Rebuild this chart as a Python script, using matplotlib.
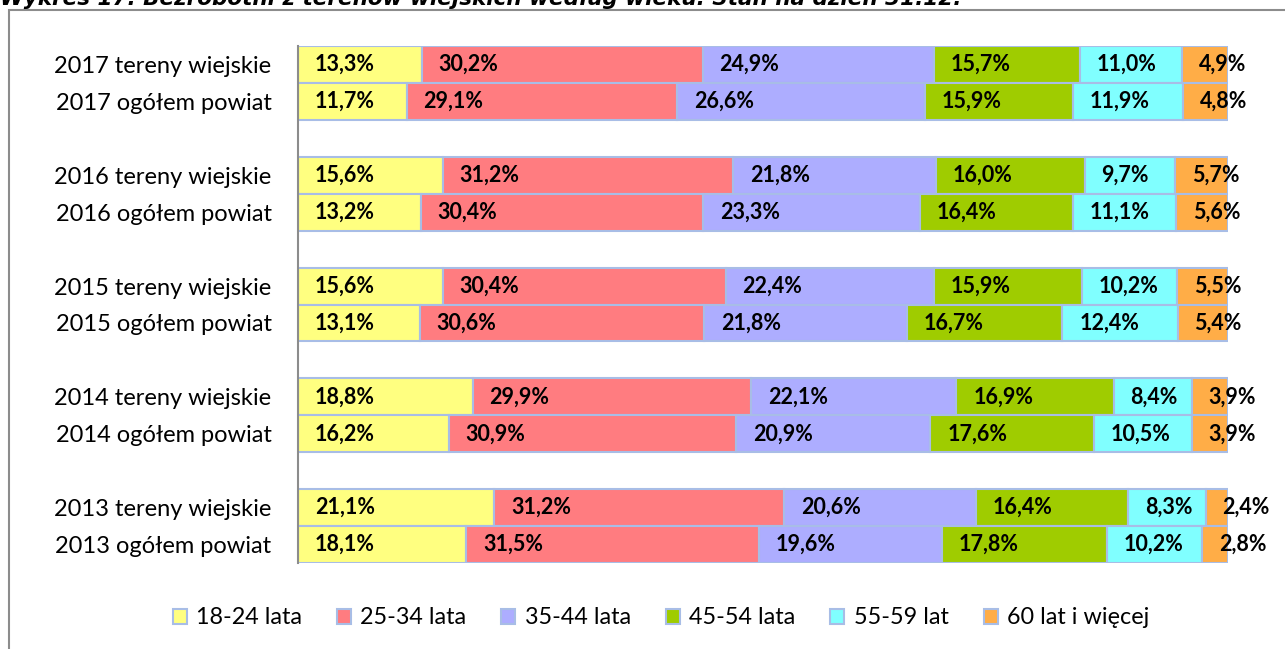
import matplotlib
matplotlib.use('Agg')
import matplotlib.pyplot as plt
from matplotlib.patches import Rectangle, Patch
import numpy as np

plt.rcParams['font.family'] = ['Lato', 'DejaVu Sans']

# categories, top to bottom
categories = [
    '2017 tereny wiejskie', '2017 ogółem powiat',
    '2016 tereny wiejskie', '2016 ogółem powiat',
    '2015 tereny wiejskie', '2015 ogółem powiat',
    '2014 tereny wiejskie', '2014 ogółem powiat',
    '2013 tereny wiejskie', '2013 ogółem powiat',
]
age_groups = ['18-24 lata', '25-34 lata', '35-44 lata', '45-54 lata', '55-59 lat', '60 lat i więcej']

share_18_24 = [13.3, 11.7, 15.6, 13.2, 15.6, 13.1, 18.8, 16.2, 21.1, 18.1]
share_25_34 = [30.2, 29.1, 31.2, 30.4, 30.4, 30.6, 29.9, 30.9, 31.2, 31.5]
share_35_44 = [24.9, 26.6, 21.8, 23.3, 22.4, 21.8, 22.1, 20.9, 20.6, 19.6]
share_45_54 = [15.7, 15.9, 16.0, 16.4, 15.9, 16.7, 16.9, 17.6, 16.4, 17.8]
share_55_59 = [11.0, 11.9, 9.7, 11.1, 10.2, 12.4, 8.4, 10.5, 8.3, 10.2]
share_60_plus = [4.9, 4.8, 5.7, 5.6, 5.5, 5.4, 3.9, 3.9, 2.4, 2.8]

colors = ['#FFFF80', '#FF7C80', '#ADADFF', '#9FCC00', '#80FFFF', '#FFAD47']
edge = '#A8BDE6'

title = 'Wykres 17. Bezrobotni z terenów wiejskich według wieku. Stan na dzień 31.12.'

W, H = 1285, 649
fig = plt.figure(figsize=(W / 100, H / 100), dpi=100)
ax = fig.add_axes([298 / W, 1 - 563 / H, (1228 - 298) / W, (563 - 46) / H])

series = np.array([share_18_24, share_25_34, share_35_44, share_45_54, share_55_59, share_60_plus])
totals = series.sum(axis=0)
pct = series / totals * 100

# two bars per year, one empty slot between years
ypos = np.array([3 * (i // 2) + i % 2 for i in range(len(categories))])

left = np.zeros(len(categories))
for k in range(len(age_groups)):
    ax.barh(ypos, pct[k], left=left, height=1.0, color=colors[k],
            edgecolor=edge, linewidth=1.5, label=age_groups[k])
    for y, l, v in zip(ypos, left, series[k]):
        ax.text(l + 1.8, y, ('%.1f%%' % v).replace('.', ','), ha='left', va='center',
                fontsize=15.5, fontweight='bold', color='black')
    left += pct[k]

ax.set_xlim(0, 100)
ax.set_ylim(13.5, -0.5)
ax.set_yticks(ypos)
ax.set_yticklabels(categories, fontsize=17)
ax.tick_params(axis='y', length=0, pad=19)
ax.set_xticks([])
for s in ['top', 'right', 'bottom']:
    ax.spines[s].set_visible(False)
ax.spines['left'].set_color('#8C8C8C')
ax.spines['left'].set_linewidth(1.5)

handles = [Patch(facecolor=c, edgecolor=edge, linewidth=1.5) for c in colors]
fig.legend(handles, age_groups, loc='center', bbox_to_anchor=(661 / W, 1 - 618 / H),
           ncol=6, frameon=False, fontsize=16.8, handlelength=0.6, handleheight=0.65,
           handletextpad=0.4, columnspacing=1.5)

# outer chart frame, cut off at the right and bottom
fig.add_artist(Rectangle((9 / W, -0.1), 1.2, 1.1 - 10 / H, transform=fig.transFigure,
                         fill=False, edgecolor='#8C8C8C', linewidth=1.5))
fig.text(0.0, 1 - 5 / H, title, ha='left', va='baseline', fontsize=15.5,
         fontweight='bold', fontstyle='italic', family=['DejaVu Sans'])

fig.savefig('out.png', dpi=100)
